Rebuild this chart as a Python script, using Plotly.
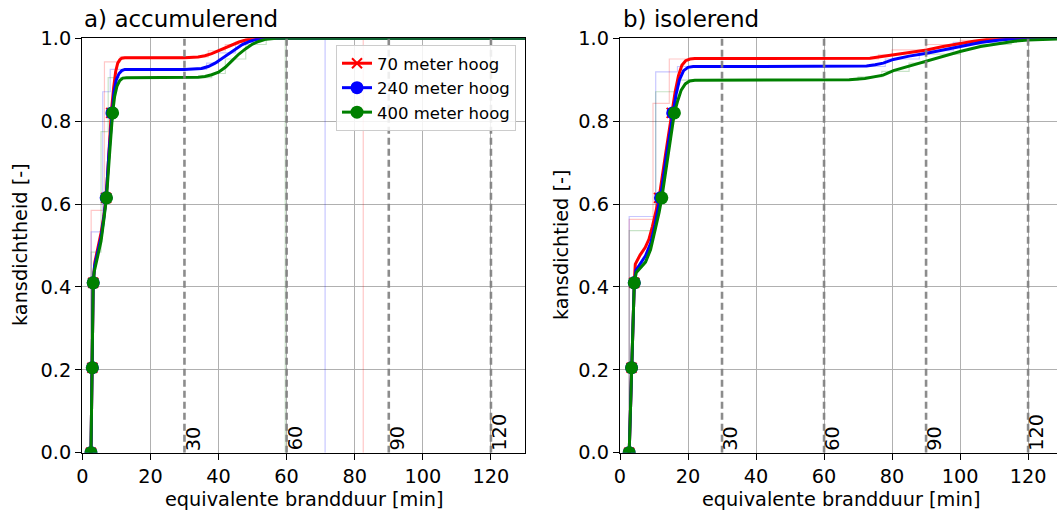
import plotly.graph_objects as go

# ---------------- data ----------------
series_names = ["70 meter hoog", "240 meter hoog", "400 meter hoog"]
series_colors = ["#ff0000", "#0000ff", "#008000"]
threshold_minutes = [30, 60, 90, 120]
x_ticks = [0, 20, 40, 60, 80, 100, 120]
y_ticks = [0.0, 0.2, 0.4, 0.6, 0.8, 1.0]

# a) accumulerend - smooth curves
a_red_x = [2.55, 2.95, 3.2, 3.7, 4.5, 5.5, 6.3, 7.0, 7.8, 8.5, 9.2, 9.8, 10.4, 11.0, 11.6, 12.5, 20, 30, 34, 36, 38, 40, 42, 44, 46, 48, 50, 55, 130]
a_red_y = [0, 0.205, 0.41, 0.46, 0.49, 0.53, 0.57, 0.615, 0.72, 0.82, 0.88, 0.92, 0.94, 0.948, 0.952, 0.953, 0.953, 0.953, 0.955, 0.958, 0.963, 0.97, 0.977, 0.985, 0.991, 0.996, 0.999, 1.0, 1.0]
a_blue_x = [2.55, 2.95, 3.2, 3.6, 4.5, 5.5, 6.3, 7.0, 7.8, 8.7, 9.3, 10.0, 10.8, 11.6, 12.5, 20, 30, 35, 37, 39, 41, 43, 45, 47, 49, 51, 53, 56, 130]
a_blue_y = [0, 0.205, 0.41, 0.45, 0.48, 0.52, 0.565, 0.615, 0.72, 0.82, 0.87, 0.9, 0.915, 0.922, 0.925, 0.925, 0.925, 0.927, 0.932, 0.94, 0.951, 0.963, 0.975, 0.985, 0.992, 0.997, 0.999, 1.0, 1.0]
a_green_x = [2.55, 2.95, 3.2, 3.5, 4.5, 5.5, 6.3, 7.1, 8.0, 8.9, 9.5, 10.2, 11.0, 11.9, 13, 20, 30, 34, 36, 38, 40, 42, 44, 46, 48, 50, 52, 54, 57, 130]
a_green_y = [0, 0.205, 0.41, 0.437, 0.47, 0.51, 0.56, 0.615, 0.72, 0.82, 0.86, 0.885, 0.898, 0.904, 0.905, 0.905, 0.905, 0.906, 0.908, 0.912, 0.918, 0.93, 0.946, 0.962, 0.975, 0.986, 0.993, 0.998, 1.0, 1.0]

# a) markers
a_red_mx = [2.55, 2.95, 3.2, 7.0, 8.5]
a_red_my = [0, 0.205, 0.41, 0.615, 0.82]
a_blue_mx = [2.55, 2.95, 3.2, 7.0, 8.7]
a_blue_my = [0, 0.205, 0.41, 0.615, 0.82]
a_green_mx = [2.55, 2.95, 3.2, 7.1, 8.9]
a_green_my = [0, 0.205, 0.41, 0.615, 0.82]

# a) faint empirical steps
a_red_sx = [2.6, 2.6, 6.5, 6.5, 11.1, 11.1, 37, 37, 42, 42, 48, 48, 82.5, 82.5]
a_red_sy = [0, 0.585, 0.585, 0.943, 0.943, 0.955, 0.955, 0.97, 0.97, 0.985, 0.985, 1.0, 1.0, 0]
a_blue_sx = [2.6, 2.6, 6.0, 6.0, 8.2, 8.2, 36.5, 36.5, 40, 40, 45, 45, 52, 52, 71.3, 71.3]
a_blue_sy = [0, 0.533, 0.533, 0.871, 0.871, 0.925, 0.925, 0.94, 0.94, 0.965, 0.965, 0.99, 0.99, 1.0, 1.0, 0]
a_green_sx = [2.6, 2.6, 5.5, 5.5, 7.6, 7.6, 38, 38, 42, 42, 48, 48, 54, 54, 59.6, 59.6]
a_green_sy = [0, 0.484, 0.484, 0.775, 0.775, 0.905, 0.905, 0.915, 0.915, 0.95, 0.95, 0.985, 0.985, 1.0, 1.0, 0]

# b) isolerend - smooth curves
b_red_x = [2.7, 3.4, 4.2, 4.5, 5.9, 7.4, 8.5, 9.5, 10.5, 11.5, 13.4, 15.2, 16.2, 17.2, 18.2, 19.3, 20.6, 22, 40, 60, 70, 73.5, 77, 80.4, 85, 90.2, 95, 100, 104, 107.8, 112, 130]
b_red_y = [0, 0.205, 0.41, 0.455, 0.477, 0.495, 0.515, 0.545, 0.58, 0.615, 0.72, 0.82, 0.87, 0.91, 0.935, 0.946, 0.95, 0.951, 0.951, 0.951, 0.951, 0.952, 0.956, 0.96, 0.966, 0.972, 0.98, 0.988, 0.993, 0.997, 1.0, 1.0]
b_blue_x = [2.7, 3.4, 4.2, 4.7, 6.0, 7.5, 9.0, 10.3, 11.2, 11.9, 13.7, 15.5, 16.5, 17.5, 18.7, 20, 21.5, 40, 60, 70, 72.5, 75, 77.4, 80.4, 85, 90.2, 95, 100, 106, 111.7, 118, 130]
b_blue_y = [0, 0.205, 0.41, 0.44, 0.455, 0.475, 0.505, 0.55, 0.59, 0.615, 0.72, 0.82, 0.865, 0.9, 0.922, 0.93, 0.932, 0.932, 0.932, 0.932, 0.933, 0.936, 0.94, 0.949, 0.957, 0.964, 0.972, 0.981, 0.99, 0.996, 1.0, 1.0]
b_green_x = [2.7, 3.4, 4.2, 4.8, 6.0, 7.5, 9.0, 10.5, 11.5, 12.3, 14.1, 16.0, 17, 18, 19.2, 20.5, 22, 40, 60, 65, 67.4, 72, 77.4, 80.4, 85, 90.2, 95, 100, 106, 111.7, 116, 120, 125, 130]
b_green_y = [0, 0.205, 0.41, 0.435, 0.445, 0.46, 0.49, 0.54, 0.58, 0.615, 0.72, 0.82, 0.85, 0.875, 0.89, 0.897, 0.899, 0.899, 0.899, 0.899, 0.9, 0.903, 0.911, 0.922, 0.933, 0.944, 0.956, 0.968, 0.98, 0.988, 0.993, 0.996, 0.998, 0.999]

# b) markers
b_red_mx = [2.7, 3.4, 4.2, 11.5, 15.2]
b_red_my = [0, 0.205, 0.41, 0.615, 0.82]
b_blue_mx = [2.7, 3.4, 4.2, 11.9, 15.5]
b_blue_my = [0, 0.205, 0.41, 0.615, 0.82]
b_green_mx = [2.7, 3.4, 4.2, 12.3, 16.0]
b_green_my = [0, 0.205, 0.41, 0.615, 0.82]

# b) faint empirical steps
b_red_sx = [2.7, 2.7, 9.7, 9.7, 14.5, 14.5, 76, 76, 80, 80, 90, 90, 100, 100, 110, 110, 130]
b_red_sy = [0, 0.563, 0.563, 0.843, 0.843, 0.95, 0.95, 0.96, 0.96, 0.972, 0.972, 0.985, 0.985, 0.995, 0.995, 1.0, 1.0]
b_blue_sx = [2.7, 2.7, 10.5, 10.5, 16.9, 16.9, 78, 78, 88, 88, 98, 98, 112, 112, 130]
b_blue_sy = [0, 0.57, 0.57, 0.919, 0.919, 0.932, 0.932, 0.95, 0.95, 0.97, 0.97, 0.99, 0.99, 1.0, 1.0]
b_green_sx = [2.7, 2.7, 10.5, 10.5, 17, 17, 70, 70, 77, 77, 85, 85, 90, 90, 100, 100, 115, 115, 130]
b_green_sy = [0, 0.536, 0.536, 0.871, 0.871, 0.899, 0.899, 0.907, 0.907, 0.92, 0.92, 0.94, 0.94, 0.962, 0.962, 0.985, 0.985, 1.0, 1.0]

# ---------------- figure ----------------
FONT = "DejaVu Sans"
BASE = 19.3
W, H = 1057, 513

fig = go.Figure()

panels = [
    dict(xa="x", ya="y",
         curves=[(a_red_x, a_red_y), (a_blue_x, a_blue_y), (a_green_x, a_green_y)],
         marks=[(a_red_mx, a_red_my), (a_blue_mx, a_blue_my), (a_green_mx, a_green_my)],
         steps=[(a_red_sx, a_red_sy), (a_blue_sx, a_blue_sy), (a_green_sx, a_green_sy)]),
    dict(xa="x2", ya="y2",
         curves=[(b_red_x, b_red_y), (b_blue_x, b_blue_y), (b_green_x, b_green_y)],
         marks=[(b_red_mx, b_red_my), (b_blue_mx, b_blue_my), (b_green_mx, b_green_my)],
         steps=[(b_red_sx, b_red_sy), (b_blue_sx, b_blue_sy), (b_green_sx, b_green_sy)]),
]

faint = ["rgba(255,0,0,0.22)", "rgba(0,0,255,0.22)", "rgba(0,128,0,0.22)"]

def marker_style(i):
    if i == 0:
        return dict(symbol="x-thin", size=10, color=series_colors[i],
                    line=dict(width=2, color=series_colors[i]))
    return dict(symbol="circle", size=13, color=series_colors[i], line=dict(width=0))

for p in panels:
    for i, (sx, sy) in enumerate(p["steps"]):
        fig.add_trace(go.Scatter(x=sx, y=sy, mode="lines", xaxis=p["xa"], yaxis=p["ya"],
                                 line=dict(color=faint[i], width=1.2), showlegend=False,
                                 hoverinfo="skip"))
    for i in range(3):
        cx, cy = p["curves"][i]
        mx, my = p["marks"][i]
        fig.add_trace(go.Scatter(x=cx, y=cy, mode="lines", xaxis=p["xa"], yaxis=p["ya"],
                                 line=dict(color=series_colors[i], width=3), showlegend=False))
        fig.add_trace(go.Scatter(x=mx, y=my, mode="markers", xaxis=p["xa"], yaxis=p["ya"],
                                 marker=marker_style(i), showlegend=False))
    for t in threshold_minutes:
        fig.add_trace(go.Scatter(x=[t, t], y=[0, 1], mode="lines", xaxis=p["xa"], yaxis=p["ya"],
                                 line=dict(color="rgba(128,128,128,0.9)", width=2.6, dash="7px,4px"),
                                 showlegend=False, hoverinfo="skip"))
        fig.add_annotation(x=t, y=0, xref=p["xa"], yref=p["ya"], text=str(t), textangle=-90,
                           showarrow=False, xanchor="left", yanchor="bottom",
                           font=dict(family=FONT, size=BASE, color="black"),
                           borderpad=0, xshift=-4, yshift=1)

# legend-only traces
for i in range(3):
    fig.add_trace(go.Scatter(x=[None], y=[None], mode="lines+markers", name=series_names[i],
                             line=dict(color=series_colors[i], width=3),
                             marker=marker_style(i), xaxis="x", yaxis="y"))

x1_dom = [82.3 / W, 525.0 / W]
x2_dom = [620.0 / W, 1.0]
y_dom = [(H - 452.7) / H, (H - 38.3) / H]

axis_common = dict(showgrid=True, gridcolor="#b0b0b0", gridwidth=1.4, automargin=False,
                   zeroline=False, showline=True, linecolor="black", linewidth=1.4,
                   ticks="outside", ticklen=6, tickwidth=1.4, tickcolor="black",
                   tickfont=dict(family=FONT, size=BASE, color="black"))

fig.update_layout(
    width=W, height=H, autosize=False,
    margin=dict(l=0, r=0, t=0, b=0, pad=0, autoexpand=False),
    paper_bgcolor="white", plot_bgcolor="white",
    font=dict(family=FONT, size=BASE, color="black"),
    xaxis=dict(domain=x1_dom, range=[0, 130], tickvals=x_ticks, mirror=True, anchor="y", **axis_common),
    yaxis=dict(domain=y_dom, range=[0, 1], tickvals=y_ticks, tickformat=".1f", mirror=True, anchor="x", **axis_common),
    xaxis2=dict(domain=x2_dom, range=[0, 128.5], tickvals=x_ticks, mirror=True, anchor="y2", **axis_common),
    yaxis2=dict(domain=y_dom, range=[0, 1], tickvals=y_ticks, tickformat=".1f", mirror=False, anchor="x2", **axis_common),
    showlegend=True,
    legend=dict(x=336 / W, y=(H - 45) / H, xanchor="left", yanchor="top",
                bgcolor="rgba(255,255,255,0.85)", bordercolor="#cccccc", borderwidth=1,
                font=dict(family=FONT, size=16.5, color="black")),
)

# titles and axis labels
texts = [
    dict(x=82 / W, y=(H - 19) / H, text="a) accumulerend", xanchor="left", yanchor="middle", size=23, angle=0),
    dict(x=621 / W, y=(H - 19) / H, text="b) isolerend", xanchor="left", yanchor="middle", size=23, angle=0),
    dict(x=304 / W, y=(H - 499) / H, text="equivalente brandduur [min]", xanchor="center", yanchor="middle", size=BASE, angle=0),
    dict(x=841 / W, y=(H - 499) / H, text="equivalente brandduur [min]", xanchor="center", yanchor="middle", size=BASE, angle=0),
    dict(x=20 / W, y=(H - 245) / H, text="kansdichtheid [-]", xanchor="center", yanchor="middle", size=BASE, angle=-90),
    dict(x=561 / W, y=(H - 245) / H, text="kansdichtied [-]", xanchor="center", yanchor="middle", size=BASE, angle=-90),
]
for t in texts:
    fig.add_annotation(x=t["x"], y=t["y"], xref="paper", yref="paper", text=t["text"],
                       showarrow=False, xanchor=t["xanchor"], yanchor=t["yanchor"],
                       textangle=t["angle"], font=dict(family=FONT, size=t["size"], color="black"))

fig.write_html("out.html", config={"displayModeBar": False},
               post_script="document.body.style.margin='0';document.body.style.overflow='hidden';")
